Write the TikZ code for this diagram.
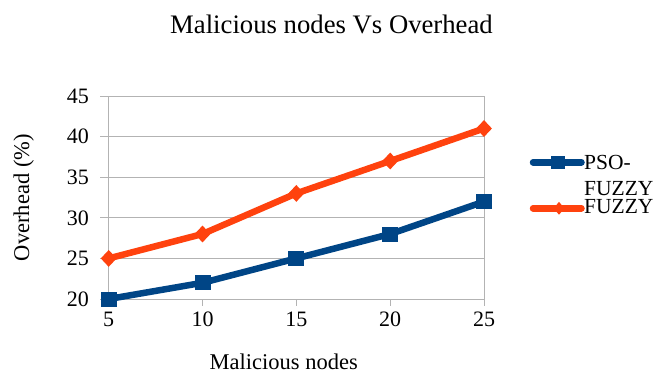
\documentclass[tikz,border=0pt]{standalone}
\usepackage{fontspec}
\setmainfont{Liberation Serif}
\usetikzlibrary{shapes.geometric}
\definecolor{psoblue}{HTML}{004586}
\definecolor{fzorange}{HTML}{FF420E}
\definecolor{gridgray}{HTML}{B3B3B3}
\tikzset{
  grid line/.style={draw=gridgray, line width=0.9pt},
  series/.style={line width=6.5pt, line join=round, line cap=round},
  sqmark/.style={rectangle, fill=psoblue, inner sep=0pt, minimum width=16pt, minimum height=15pt},
  dmmark/.style={diamond, fill=fzorange, inner sep=0pt, minimum width=16pt, minimum height=17pt},
  ticklab/.style={inner sep=0pt, font=\fontsize{22}{22}\selectfont},
  axlab/.style={inner sep=0pt, font=\fontsize{22.5}{22.5}\selectfont},
  leglab/.style={inner sep=0pt, anchor=base west, font=\fontsize{21.5}{21.5}\selectfont},
}
\begin{document}
\begin{tikzpicture}[x=1pt, y=-1pt]
\useasboundingbox (0,0) rectangle (661,373);
% title
\node[inner sep=0pt, anchor=base, font=\fontsize{26.7}{26.7}\selectfont] (title) at (331.5,33) {Malicious nodes Vs Overhead};
% grid
\foreach \v/\y in {20/299,25/258.4,30/217.8,35/177.2,40/136.6,45/96}{
  \draw[grid line] (100,\y) -- (484,\y);
  \node[ticklab, anchor=east] (yl\v) at (89,\y) {\v};
}
\draw[grid line] (108.7,96) -- (108.7,299);
\draw[grid line] (484,96) -- (484,306);
\foreach \v/\x in {5/108.7,10/202.5,15/296.3,20/390.2,25/484}{
  \draw[grid line] (\x,299) -- (\x,306);
  \node[ticklab, anchor=north] (xl\v) at (\x,312) {\v};
}
% axis labels
\node[axlab, anchor=base] (xlab) at (283.7,369) {Malicious nodes};
\node[axlab, anchor=base, rotate=90] (ylab) at (29,197.6) {Overhead (\%)};
% data coordinates
\coordinate (a1) at (108.7,299);
\coordinate (a2) at (202.5,282.8);
\coordinate (a3) at (296.3,258.4);
\coordinate (a4) at (390.2,234.0);
\coordinate (a5) at (484,201.6);
\coordinate (b1) at (108.7,258.4);
\coordinate (b2) at (202.5,234.0);
\coordinate (b3) at (296.3,193.4);
\coordinate (b4) at (390.2,161.0);
\coordinate (b5) at (484,128.5);
\draw[series, psoblue] (a1) -- (a2) -- (a3) -- (a4) -- (a5);
\draw[series, fzorange] (b1) -- (b2) -- (b3) -- (b4) -- (b5);
\foreach \i in {1,...,5}{
  \node[sqmark] (ma\i) at (a\i) {};
  \node[dmmark] (mb\i) at (b\i) {};
}
% legend
\coordinate (la1) at (533,162.3);
\coordinate (la2) at (581.5,162.3);
\coordinate (lb1) at (533,208.3);
\coordinate (lb2) at (581.5,208.3);
\draw[series, psoblue] (la1) -- (la2);
\node[sqmark, minimum width=14pt, minimum height=13pt] (lma) at (558,162.5) {};
\draw[series, fzorange] (lb1) -- (lb2);
\node[dmmark, minimum width=11pt, minimum height=13pt] (lmb) at (559,208.3) {};
\node[leglab] (lt1) at (584,169.3) {PSO-};
\node[leglab] (lt2) at (584,195.7) {FUZZY};
\node[leglab] (lt3) at (584,213.3) {FUZZY};
\end{tikzpicture}
\end{document}
